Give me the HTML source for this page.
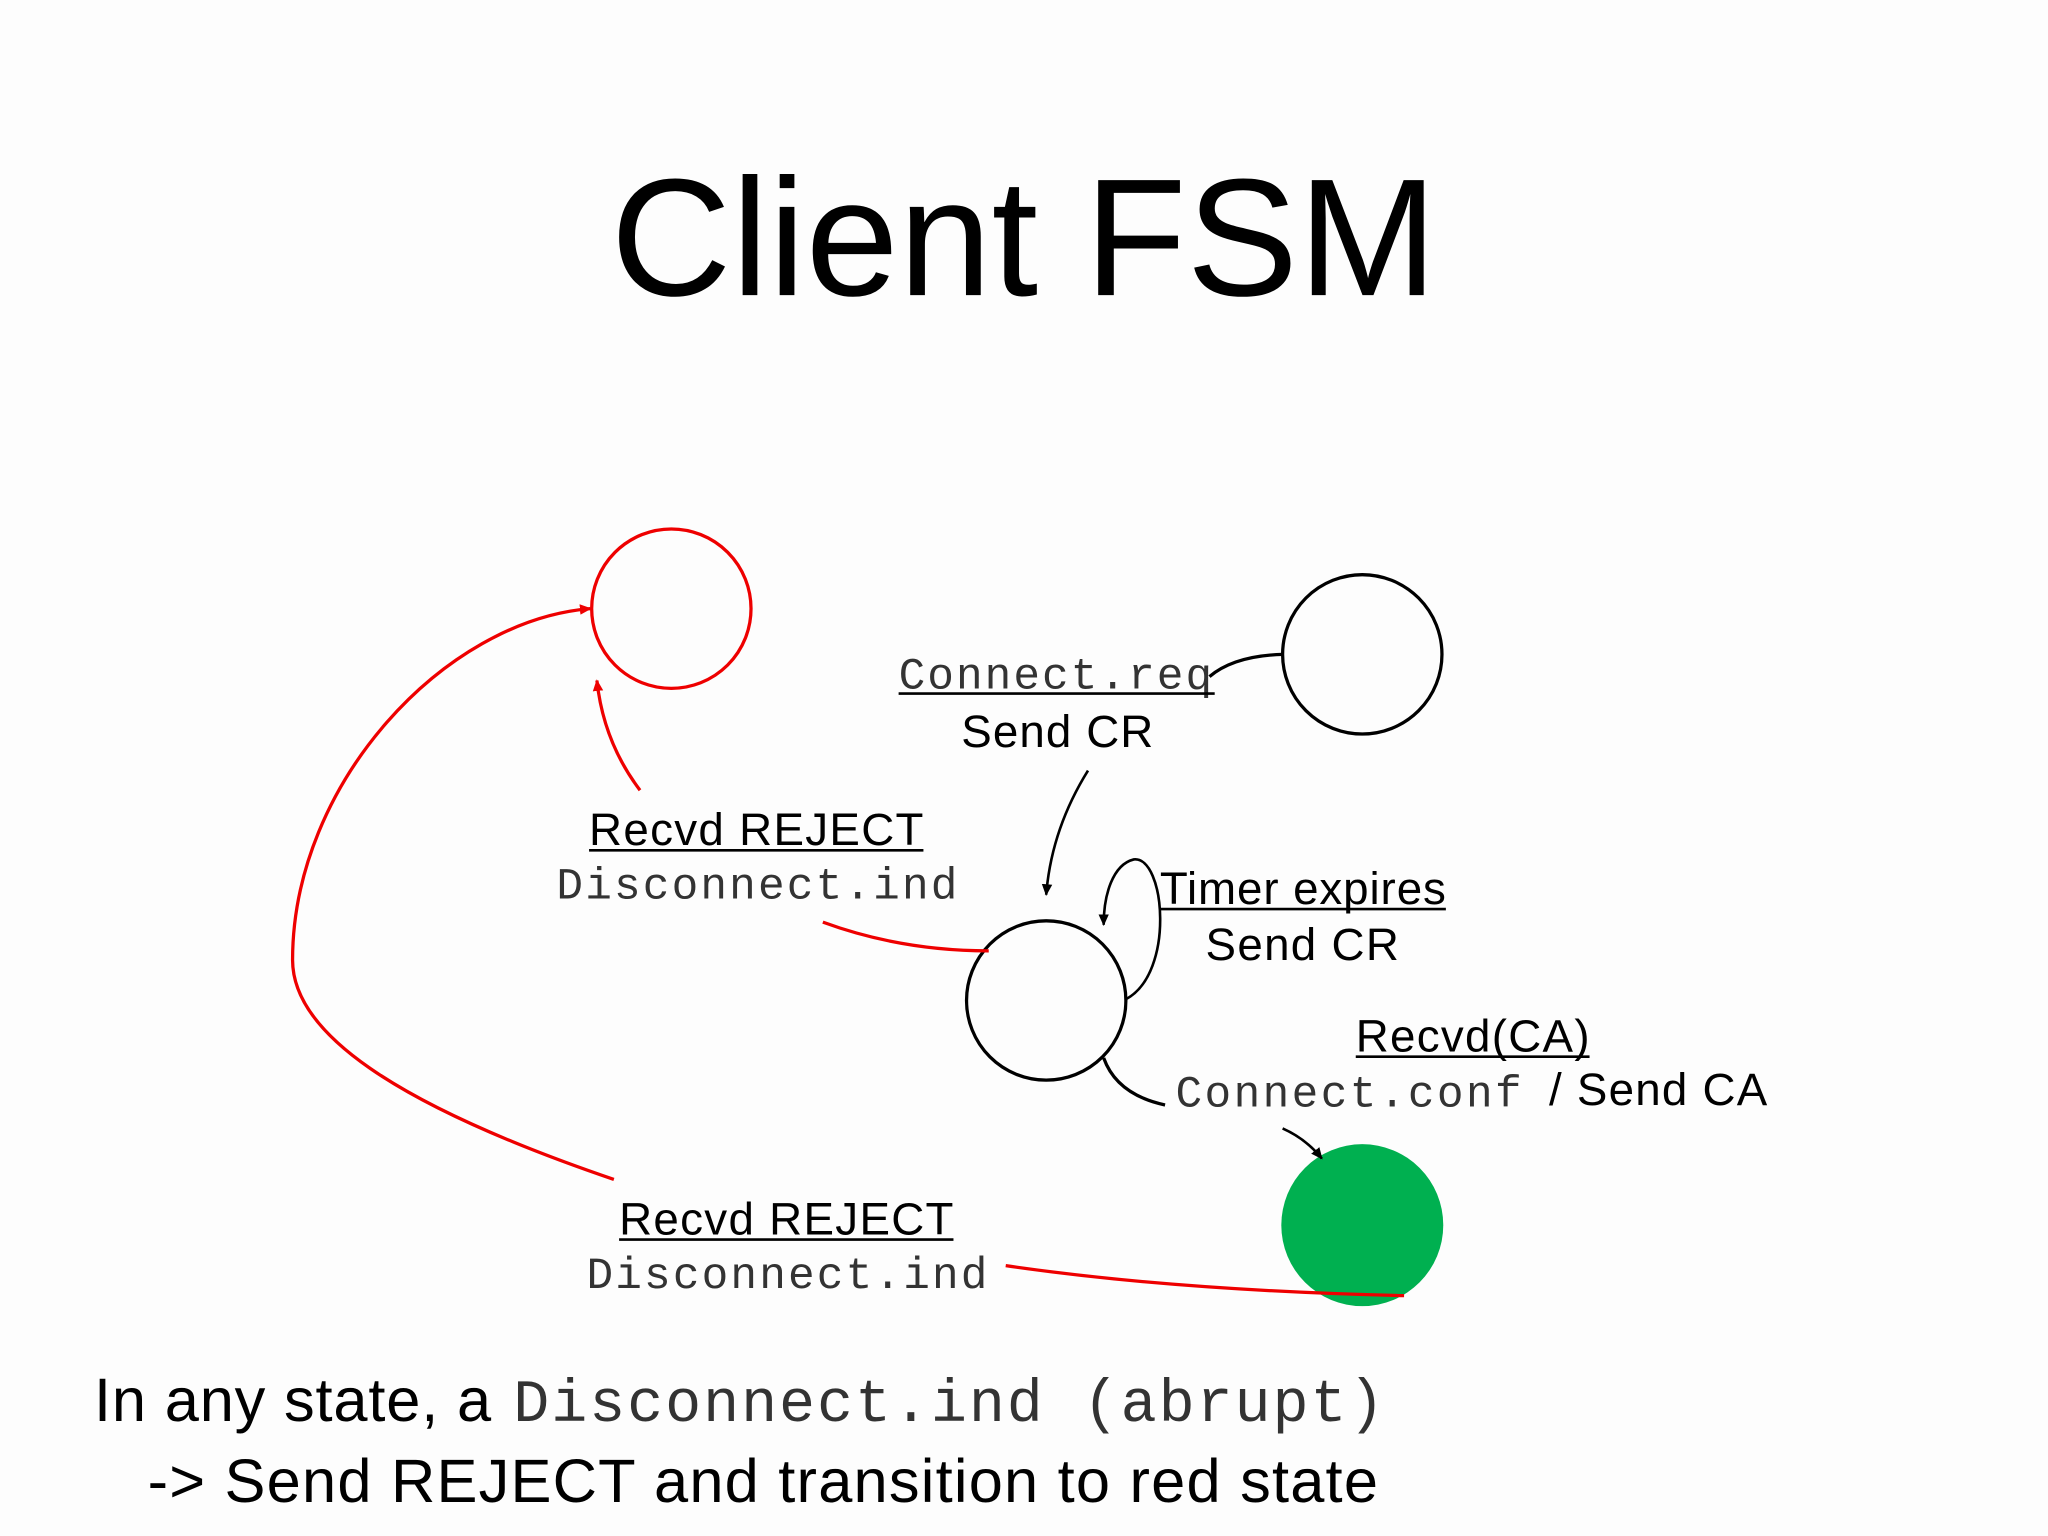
<!DOCTYPE html>
<html><head><meta charset="utf-8"><style>
html,body{margin:0;padding:0;background:#fdfdfd;}
svg{display:block;}
.s{font-family:"Liberation Sans",sans-serif;fill:#000;}
.m{font-family:"Liberation Mono",monospace;fill:#333;}
</style></head><body>
<svg width="2048" height="1536" viewBox="0 0 1568 1176" xmlns="http://www.w3.org/2000/svg">
<defs>
<marker id="ab" markerWidth="10" markerHeight="10" refX="8" refY="5" orient="auto" markerUnits="userSpaceOnUse"><path d="M0,1 L9,5 L0,9 z" fill="#000"/></marker>
<marker id="ar" markerWidth="10" markerHeight="10" refX="8" refY="5" orient="auto" markerUnits="userSpaceOnUse"><path d="M0,1 L9,5 L0,9 z" fill="#e00"/></marker>
</defs>
<rect width="1568" height="1176" fill="#fdfdfd"/>
<text class="s" x="784" y="226" text-anchor="middle" font-size="128">Client FSM</text>

<circle cx="514" cy="466" r="61" fill="none" stroke="#e00" stroke-width="2.5"/>
<circle cx="1043" cy="501" r="61" fill="none" stroke="#000" stroke-width="2.5"/>
<circle cx="801" cy="766" r="61" fill="none" stroke="#000" stroke-width="2.5"/>
<circle cx="1043" cy="938" r="62" fill="#00b050"/>

<text class="m" x="688" y="527" font-size="34" textLength="240">Connect.req</text>
<line x1="688" y1="531" x2="930" y2="531" stroke="#000" stroke-width="2"/>
<path d="M926,518 Q945,502 982,501" fill="none" stroke="#000" stroke-width="2.5"/>
<text class="s" x="736" y="572" font-size="35" textLength="147">Send CR</text>
<path d="M833,590 Q805,635 801,685" fill="none" stroke="#000" stroke-width="2" marker-end="url(#ab)"/>

<path d="M862,765 C900,745 892,655 868,658 C852,662 845,685 845,708" fill="none" stroke="#000" stroke-width="2" marker-end="url(#ab)"/>
<text class="s" x="888" y="692" font-size="35" textLength="219">Timer expires</text>
<line x1="888" y1="696" x2="1107" y2="696" stroke="#000" stroke-width="2"/>
<text class="s" x="923" y="735" font-size="35" textLength="148">Send CR</text>

<text class="s" x="1038" y="805" font-size="35" textLength="179">Recvd(CA)</text>
<line x1="1038" y1="809" x2="1217" y2="809" stroke="#000" stroke-width="2"/>
<text class="m" x="900" y="847" font-size="34" textLength="265">Connect.conf</text>
<text class="s" x="1186" y="846" font-size="35" textLength="167">/ Send CA</text>
<path d="M845,810 Q855,838 892,846" fill="none" stroke="#000" stroke-width="2.5"/>
<path d="M982,864 Q1000,872 1012,887" fill="none" stroke="#000" stroke-width="2" marker-end="url(#ab)"/>

<text class="s" x="451" y="647" font-size="35" textLength="256">Recvd REJECT</text>
<line x1="451" y1="651" x2="707" y2="651" stroke="#000" stroke-width="2"/>
<text class="m" x="426" y="688" font-size="34" textLength="307">Disconnect.ind</text>
<path d="M630,706 Q690,728 757,728" fill="none" stroke="#e00" stroke-width="2.5"/>
<path d="M490,605 Q462,568 457,521" fill="none" stroke="#e00" stroke-width="2.5" marker-end="url(#ar)"/>

<path d="M470,903 C300,845 224,790 224,735 C224,600 340,475 452,466" fill="none" stroke="#e00" stroke-width="2.5" marker-end="url(#ar)"/>
<text class="s" x="474" y="945" font-size="35" textLength="256">Recvd REJECT</text>
<line x1="474" y1="949" x2="730" y2="949" stroke="#000" stroke-width="2"/>
<text class="m" x="449" y="986" font-size="34" textLength="307">Disconnect.ind</text>
<path d="M770,969 Q900,988 1075,992" fill="none" stroke="#e00" stroke-width="2.5"/>

<text class="s" x="72" y="1088" font-size="47" textLength="304">In any state, a</text>
<text class="m" x="393" y="1088" font-size="46" textLength="667">Disconnect.ind (abrupt)</text>
<text class="s" x="113" y="1150" font-size="47" textLength="942">-&gt; Send REJECT and transition to red state</text>
</svg>
</body></html>
